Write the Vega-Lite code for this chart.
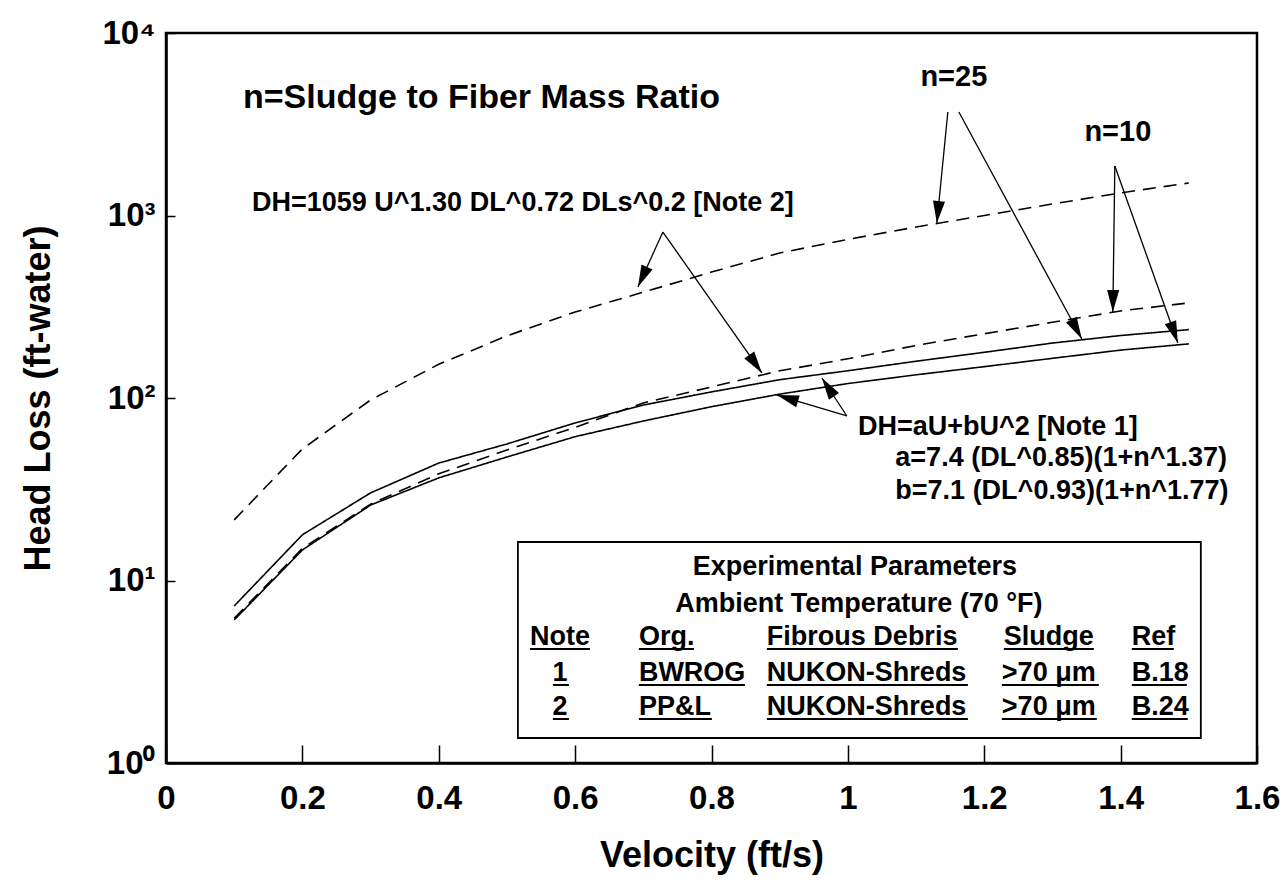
{
  "$schema": "https://vega.github.io/schema/vega-lite/v6.json",
  "width": 1091,
  "height": 730,
  "autosize": {"type": "none"},
  "padding": {"left": 166, "top": 33, "right": 29, "bottom": 118},
  "background": "white",
  "config": {
    "view": {"stroke": "black", "strokeWidth": 2.5},
    "font": "Liberation Sans",
    "text": {"font": "Liberation Sans", "fontWeight": "bold", "color": "black", "baseline": "middle"}
  },
  "datasets": {
    "curves": [
      {"U": 0.1, "DH": 7.25, "curve": "n=25 Note 1", "note": "Note 1"},
      {"U": 0.2, "DH": 17.8, "curve": "n=25 Note 1", "note": "Note 1"},
      {"U": 0.3, "DH": 30.2, "curve": "n=25 Note 1", "note": "Note 1"},
      {"U": 0.4, "DH": 44.0, "curve": "n=25 Note 1", "note": "Note 1"},
      {"U": 0.5, "DH": 56.0, "curve": "n=25 Note 1", "note": "Note 1"},
      {"U": 0.6, "DH": 73.0, "curve": "n=25 Note 1", "note": "Note 1"},
      {"U": 0.7, "DH": 91.5, "curve": "n=25 Note 1", "note": "Note 1"},
      {"U": 0.8, "DH": 108, "curve": "n=25 Note 1", "note": "Note 1"},
      {"U": 0.9, "DH": 126, "curve": "n=25 Note 1", "note": "Note 1"},
      {"U": 1.0, "DH": 141, "curve": "n=25 Note 1", "note": "Note 1"},
      {"U": 1.1, "DH": 159, "curve": "n=25 Note 1", "note": "Note 1"},
      {"U": 1.2, "DH": 178, "curve": "n=25 Note 1", "note": "Note 1"},
      {"U": 1.3, "DH": 200, "curve": "n=25 Note 1", "note": "Note 1"},
      {"U": 1.4, "DH": 220, "curve": "n=25 Note 1", "note": "Note 1"},
      {"U": 1.5, "DH": 237, "curve": "n=25 Note 1", "note": "Note 1"},
      {"U": 0.1, "DH": 6.08, "curve": "n=10 Note 1", "note": "Note 1"},
      {"U": 0.2, "DH": 14.7, "curve": "n=10 Note 1", "note": "Note 1"},
      {"U": 0.3, "DH": 25.9, "curve": "n=10 Note 1", "note": "Note 1"},
      {"U": 0.4, "DH": 36.5, "curve": "n=10 Note 1", "note": "Note 1"},
      {"U": 0.5, "DH": 47.5, "curve": "n=10 Note 1", "note": "Note 1"},
      {"U": 0.6, "DH": 61.4, "curve": "n=10 Note 1", "note": "Note 1"},
      {"U": 0.7, "DH": 74.8, "curve": "n=10 Note 1", "note": "Note 1"},
      {"U": 0.8, "DH": 89.6, "curve": "n=10 Note 1", "note": "Note 1"},
      {"U": 0.9, "DH": 105, "curve": "n=10 Note 1", "note": "Note 1"},
      {"U": 1.0, "DH": 120, "curve": "n=10 Note 1", "note": "Note 1"},
      {"U": 1.1, "DH": 134, "curve": "n=10 Note 1", "note": "Note 1"},
      {"U": 1.2, "DH": 148.5, "curve": "n=10 Note 1", "note": "Note 1"},
      {"U": 1.3, "DH": 165, "curve": "n=10 Note 1", "note": "Note 1"},
      {"U": 1.4, "DH": 183, "curve": "n=10 Note 1", "note": "Note 1"},
      {"U": 1.5, "DH": 198, "curve": "n=10 Note 1", "note": "Note 1"},
      {"U": 0.1, "DH": 21.5, "curve": "n=25 Note 2", "note": "Note 2"},
      {"U": 0.2, "DH": 52.6, "curve": "n=25 Note 2", "note": "Note 2"},
      {"U": 0.3, "DH": 97.5, "curve": "n=25 Note 2", "note": "Note 2"},
      {"U": 0.4, "DH": 153, "curve": "n=25 Note 2", "note": "Note 2"},
      {"U": 0.5, "DH": 219, "curve": "n=25 Note 2", "note": "Note 2"},
      {"U": 0.6, "DH": 296, "curve": "n=25 Note 2", "note": "Note 2"},
      {"U": 0.7, "DH": 380, "curve": "n=25 Note 2", "note": "Note 2"},
      {"U": 0.8, "DH": 490, "curve": "n=25 Note 2", "note": "Note 2"},
      {"U": 0.9, "DH": 623, "curve": "n=25 Note 2", "note": "Note 2"},
      {"U": 1.0, "DH": 740, "curve": "n=25 Note 2", "note": "Note 2"},
      {"U": 1.1, "DH": 865, "curve": "n=25 Note 2", "note": "Note 2"},
      {"U": 1.2, "DH": 1000, "curve": "n=25 Note 2", "note": "Note 2"},
      {"U": 1.3, "DH": 1156, "curve": "n=25 Note 2", "note": "Note 2"},
      {"U": 1.4, "DH": 1330, "curve": "n=25 Note 2", "note": "Note 2"},
      {"U": 1.5, "DH": 1507, "curve": "n=25 Note 2", "note": "Note 2"},
      {"U": 0.1, "DH": 6.2, "curve": "n=10 Note 2", "note": "Note 2"},
      {"U": 0.2, "DH": 15.0, "curve": "n=10 Note 2", "note": "Note 2"},
      {"U": 0.3, "DH": 26.2, "curve": "n=10 Note 2", "note": "Note 2"},
      {"U": 0.4, "DH": 38.4, "curve": "n=10 Note 2", "note": "Note 2"},
      {"U": 0.5, "DH": 51.9, "curve": "n=10 Note 2", "note": "Note 2"},
      {"U": 0.6, "DH": 69, "curve": "n=10 Note 2", "note": "Note 2"},
      {"U": 0.7, "DH": 94, "curve": "n=10 Note 2", "note": "Note 2"},
      {"U": 0.8, "DH": 115, "curve": "n=10 Note 2", "note": "Note 2"},
      {"U": 0.9, "DH": 141, "curve": "n=10 Note 2", "note": "Note 2"},
      {"U": 1.0, "DH": 164, "curve": "n=10 Note 2", "note": "Note 2"},
      {"U": 1.1, "DH": 194, "curve": "n=10 Note 2", "note": "Note 2"},
      {"U": 1.2, "DH": 225, "curve": "n=10 Note 2", "note": "Note 2"},
      {"U": 1.3, "DH": 260, "curve": "n=10 Note 2", "note": "Note 2"},
      {"U": 1.4, "DH": 300, "curve": "n=10 Note 2", "note": "Note 2"},
      {"U": 1.5, "DH": 332, "curve": "n=10 Note 2", "note": "Note 2"}
    ],
    "arrows": [
      {"U": 0.7287, "DH": 812, "U2": 0.6921, "DH2": 405.8, "angle": 204.4},
      {"U": 0.7287, "DH": 812, "U2": 0.8739, "DH2": 137.1, "angle": 144.9},
      {"U": 1.1466, "DH": 3691, "U2": 1.1305, "DH2": 909.9, "angle": 185.7},
      {"U": 1.1628, "DH": 3691, "U2": 1.3431, "DH2": 210.6, "angle": 151.5},
      {"U": 1.3915, "DH": 1867, "U2": 1.3886, "DH2": 296.0, "angle": 180.8},
      {"U": 1.3915, "DH": 1867, "U2": 1.4839, "DH2": 200.2, "angle": 160.4},
      {"U": 0.9985, "DH": 79.7, "U2": 0.8959, "DH2": 103.8, "angle": 286.7},
      {"U": 0.9985, "DH": 79.7, "U2": 0.9619, "DH2": 128.7, "angle": 326.7}
    ],
    "box": [
      {"U": 0.5161, "DH": 16.25, "U2": 1.5176, "DH2": 1.371}
    ],
    "texts": [
      {"U": 0.1129, "DH": 4404, "text": "n=Sludge to Fiber Mass Ratio", "group": "title"},
      {"U": 0.1261, "DH": 1171, "text": "DH=1059 U^1.30 DL^0.72 DLs^0.2 [Note 2]", "group": "note"},
      {"U": 1.0147, "DH": 69.4, "text": "DH=aU+bU^2 [Note 1]", "group": "note"},
      {"U": 1.0696, "DH": 46.9, "text": "a=7.4 (DL^0.85)(1+n^1.37)", "group": "note"},
      {"U": 1.0696, "DH": 30.9, "text": "b=7.1 (DL^0.93)(1+n^1.77)", "group": "note"},
      {"U": 1.1554, "DH": 5741, "text": "n=25", "group": "n"},
      {"U": 1.3959, "DH": 2868, "text": "n=10", "group": "n"},
      {"U": 1.0103, "DH": 11.86, "text": "Experimental Parameters", "group": "tablec"},
      {"U": 1.0161, "DH": 7.43, "text": "Ambient Temperature (70 °F)", "group": "tablec"},
      {"U": 0.5337, "DH": 4.90, "text": "Note", "group": "table"},
      {"U": 0.6935, "DH": 4.90, "text": "Org.", "group": "table"},
      {"U": 0.8812, "DH": 4.90, "text": "Fibrous Debris", "group": "table"},
      {"U": 1.2287, "DH": 4.90, "text": "Sludge", "group": "table"},
      {"U": 1.4164, "DH": 4.90, "text": "Ref", "group": "table"},
      {"U": 0.5777, "DH": 3.113, "text": "1", "group": "tablec"},
      {"U": 0.6935, "DH": 3.113, "text": "BWROG", "group": "table"},
      {"U": 0.8812, "DH": 3.113, "text": "NUKON-Shreds", "group": "table"},
      {"U": 1.2258, "DH": 3.113, "text": ">70 μm", "group": "table"},
      {"U": 1.4164, "DH": 3.113, "text": "B.18", "group": "table"},
      {"U": 0.5777, "DH": 2.027, "text": "2", "group": "tablec"},
      {"U": 0.6935, "DH": 2.027, "text": "PP&L", "group": "table"},
      {"U": 0.8812, "DH": 2.027, "text": "NUKON-Shreds", "group": "table"},
      {"U": 1.2258, "DH": 2.027, "text": ">70 μm", "group": "table"},
      {"U": 1.4164, "DH": 2.027, "text": "B.24", "group": "table"}
    ],
    "underlines": [
      {"U": 0.5337, "U2": 0.6217, "DH": 4.214},
      {"U": 0.6935, "U2": 0.7742, "DH": 4.214},
      {"U": 0.8812, "U2": 1.1613, "DH": 4.214},
      {"U": 1.2287, "U2": 1.3607, "DH": 4.214},
      {"U": 1.4164, "U2": 1.4780, "DH": 4.214},
      {"U": 0.5674, "U2": 0.5909, "DH": 2.676},
      {"U": 0.6935, "U2": 0.8490, "DH": 2.676},
      {"U": 0.8812, "U2": 1.1760, "DH": 2.676},
      {"U": 1.2258, "U2": 1.3680, "DH": 2.676},
      {"U": 1.4164, "U2": 1.4971, "DH": 2.676},
      {"U": 0.5674, "U2": 0.5909, "DH": 1.742},
      {"U": 0.6935, "U2": 0.8006, "DH": 1.742},
      {"U": 0.8812, "U2": 1.1760, "DH": 1.742},
      {"U": 1.2258, "U2": 1.3651, "DH": 1.742},
      {"U": 1.4164, "U2": 1.4985, "DH": 1.742}
    ]
  },
  "layer": [
    {
      "data": {"name": "curves"},
      "mark": {"type": "line", "color": "black", "strokeWidth": 1.6},
      "encoding": {
        "x": {
          "field": "U", "type": "quantitative",
          "scale": {"domain": [0, 1.6], "nice": false, "zero": false},
          "axis": {
            "title": "Velocity (ft/s)",
            "values": [0, 0.2, 0.4, 0.6, 0.8, 1, 1.2, 1.4, 1.6],
            "format": "~g",
            "grid": false,
            "domainColor": "black", "domainWidth": 2.5,
            "tickColor": "black", "tickWidth": 1.5, "tickSize": -18,
            "labelFont": "Liberation Sans", "labelFontWeight": "bold", "labelFontSize": 33, "labelColor": "black",
            "labelPadding": 37, "labelFlush": false, "labelOverlap": false,
            "titleFont": "Liberation Sans", "titleFontWeight": "bold", "titleFontSize": 36, "titleColor": "black",
            "titleY": 92, "titleBaseline": "middle"
          }
        },
        "y": {
          "field": "DH", "type": "quantitative",
          "scale": {"type": "log", "domain": [1, 10000], "nice": false},
          "axis": {
            "title": "Head Loss (ft-water)",
            "values": [1, 10, 100, 1000, 10000],
            "labelExpr": "'10' + (datum.value < 5 ? '⁰' : datum.value < 50 ? '¹' : datum.value < 500 ? '²' : datum.value < 5000 ? '³' : '⁴')",
            "grid": false,
            "domainColor": "black", "domainWidth": 2.5,
            "tickColor": "black", "tickWidth": 1.5, "tickSize": -9,
            "labelFont": "Liberation Sans", "labelFontWeight": "bold", "labelFontSize": 33, "labelColor": "black",
            "labelPadding": 20, "labelFlush": false, "labelOverlap": false,
            "titleFont": "Liberation Sans", "titleFontWeight": "bold", "titleFontSize": 36, "titleColor": "black",
            "titleX": -128, "titleBaseline": "middle", "titleAngle": -90
          }
        },
        "detail": {"field": "curve"},
        "strokeDash": {
          "field": "note", "type": "nominal",
          "scale": {"domain": ["Note 1", "Note 2"], "range": [[1, 0], [13, 8]]},
          "legend": null
        }
      }
    },
    {
      "data": {"name": "arrows"},
      "mark": {"type": "rule", "color": "black", "strokeWidth": 1.3},
      "encoding": {
        "x": {"field": "U", "type": "quantitative"},
        "y": {"field": "DH", "type": "quantitative"},
        "x2": {"field": "U2"},
        "y2": {"field": "DH2"}
      }
    },
    {
      "data": {"name": "arrows"},
      "mark": {"type": "point", "shape": "M0,0L-0.55,2L0.55,2Z", "filled": true, "color": "black", "opacity": 1, "size": 484},
      "encoding": {
        "x": {"field": "U2", "type": "quantitative"},
        "y": {"field": "DH2", "type": "quantitative"},
        "angle": {"field": "angle", "type": "quantitative", "scale": null}
      }
    },
    {
      "data": {"name": "box"},
      "mark": {"type": "rect", "fill": "white", "stroke": "black", "strokeWidth": 1.8},
      "encoding": {
        "x": {"field": "U", "type": "quantitative"},
        "x2": {"field": "U2"},
        "y": {"field": "DH", "type": "quantitative"},
        "y2": {"field": "DH2"}
      }
    },
    {
      "data": {"name": "underlines"},
      "mark": {"type": "rule", "color": "black", "strokeWidth": 2},
      "encoding": {
        "x": {"field": "U", "type": "quantitative"},
        "x2": {"field": "U2"},
        "y": {"field": "DH", "type": "quantitative"}
      }
    },
    {
      "data": {"name": "texts"},
      "transform": [{"filter": "datum.group == 'title'"}],
      "mark": {"type": "text", "align": "left", "fontSize": 34},
      "encoding": {
        "x": {"field": "U", "type": "quantitative"},
        "y": {"field": "DH", "type": "quantitative"},
        "text": {"field": "text"}
      }
    },
    {
      "data": {"name": "texts"},
      "transform": [{"filter": "datum.group == 'note'"}],
      "mark": {"type": "text", "align": "left", "fontSize": 27},
      "encoding": {
        "x": {"field": "U", "type": "quantitative"},
        "y": {"field": "DH", "type": "quantitative"},
        "text": {"field": "text"}
      }
    },
    {
      "data": {"name": "texts"},
      "transform": [{"filter": "datum.group == 'n'"}],
      "mark": {"type": "text", "align": "center", "fontSize": 29},
      "encoding": {
        "x": {"field": "U", "type": "quantitative"},
        "y": {"field": "DH", "type": "quantitative"},
        "text": {"field": "text"}
      }
    },
    {
      "data": {"name": "texts"},
      "transform": [{"filter": "datum.group == 'table'"}],
      "mark": {"type": "text", "align": "left", "fontSize": 27},
      "encoding": {
        "x": {"field": "U", "type": "quantitative"},
        "y": {"field": "DH", "type": "quantitative"},
        "text": {"field": "text"}
      }
    },
    {
      "data": {"name": "texts"},
      "transform": [{"filter": "datum.group == 'tablec'"}],
      "mark": {"type": "text", "align": "center", "fontSize": 27},
      "encoding": {
        "x": {"field": "U", "type": "quantitative"},
        "y": {"field": "DH", "type": "quantitative"},
        "text": {"field": "text"}
      }
    }
  ]
}
